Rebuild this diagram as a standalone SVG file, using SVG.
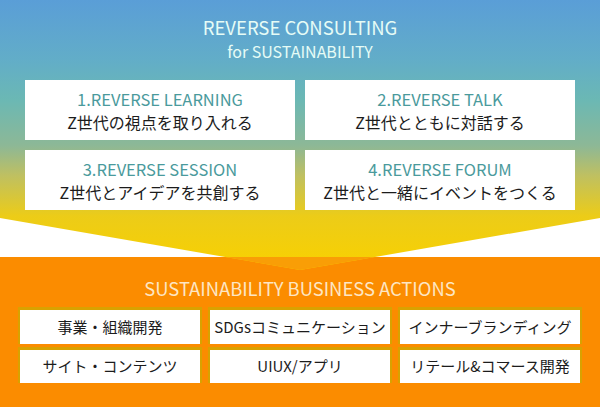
<svg xmlns="http://www.w3.org/2000/svg" width="600" height="407" viewBox="0 0 600 407">
<defs>
<linearGradient id="sky" x1="0" y1="0" x2="0" y2="270" gradientUnits="userSpaceOnUse">
<stop offset="0" stop-color="#5a9ed7"/>
<stop offset="0.22" stop-color="#62adc8"/>
<stop offset="0.37" stop-color="#6bb8b4"/>
<stop offset="0.54" stop-color="#8db896"/>
<stop offset="0.65" stop-color="#bfc061"/>
<stop offset="0.8" stop-color="#eccc18"/>
<stop offset="1" stop-color="#f9d100"/>
</linearGradient>
<style>
.t{font-family:"Noto Sans CJK JP","Noto Sans",sans-serif;text-anchor:middle}
.head{fill:#e6fcf6;font-size:18.5px}
.sub{fill:#e6fcf6;font-size:16px}
.card{fill:#ffffff}
.ct{fill:#4a9a9c;font-size:16.5px}
.cj{fill:#1c1c1c;font-size:16px}
.orange{fill:#fb8c00}
.ah{fill:#fde6c4;font-size:18.4px}
.shadow{fill:#d9a200}
.ab{fill:#ffffff}
.aj{fill:#1c1c1c;font-size:15px}
</style>
</defs>
<rect x="0" y="0" width="600" height="407" fill="#ffffff"/>
<rect class="orange" x="0" y="257" width="600" height="150"/>
<polygon points="0,0 600,0 600,218 300,270 0,218" fill="url(#sky)"/>
<polygon points="225,257 375,257 300,270" fill="#f99e06"/>
<g id="title">
<text class="t head" x="300" y="35">REVERSE CONSULTING</text>
<text class="t sub" x="300" y="58">for SUSTAINABILITY</text>
</g>
<g id="node-learning">
<rect class="card" x="25" y="80" width="270" height="60"/>
<text class="t ct" x="160" y="106">1.REVERSE LEARNING</text>
<text class="t cj" x="160" y="129">Z世代の視点を取り入れる</text>
</g>
<g id="node-talk">
<rect class="card" x="305" y="80" width="270" height="60"/>
<text class="t ct" x="440" y="106">2.REVERSE TALK</text>
<text class="t cj" x="440" y="129">Z世代とともに対話する</text>
</g>
<g id="node-session">
<rect class="card" x="25" y="150" width="270" height="60"/>
<text class="t ct" x="160" y="176">3.REVERSE SESSION</text>
<text class="t cj" x="160" y="199">Z世代とアイデアを共創する</text>
</g>
<g id="node-forum">
<rect class="card" x="305" y="150" width="270" height="60"/>
<text class="t ct" x="440" y="176">4.REVERSE FORUM</text>
<text class="t cj" x="440" y="199">Z世代と一緒にイベントをつくる</text>
</g>
<g id="connectors"></g>
<text class="t ah" x="300" y="296">SUSTAINABILITY BUSINESS ACTIONS</text>
<g id="action-1">
<rect class="shadow" x="18" y="307" width="184" height="37"/>
<rect class="ab" x="20" y="310" width="180" height="34"/>
<text class="t aj" x="110" y="333">事業・組織開発</text>
</g>
<g id="action-2">
<rect class="shadow" x="208" y="307" width="184" height="37"/>
<rect class="ab" x="210" y="310" width="180" height="34"/>
<text class="t aj" x="300" y="333">SDGsコミュニケーション</text>
</g>
<g id="action-3">
<rect class="shadow" x="398" y="307" width="184" height="37"/>
<rect class="ab" x="400" y="310" width="180" height="34"/>
<text class="t aj" x="490" y="333">インナーブランディング</text>
</g>
<g id="action-4">
<rect class="shadow" x="18" y="347" width="184" height="36"/>
<rect class="ab" x="20" y="350" width="180" height="33"/>
<text class="t aj" x="110" y="372">サイト・コンテンツ</text>
</g>
<g id="action-5">
<rect class="shadow" x="208" y="347" width="184" height="36"/>
<rect class="ab" x="210" y="350" width="180" height="33"/>
<text class="t aj" x="300" y="372">UIUX/アプリ</text>
</g>
<g id="action-6">
<rect class="shadow" x="398" y="347" width="184" height="36"/>
<rect class="ab" x="400" y="350" width="180" height="33"/>
<text class="t aj" x="490" y="372">リテール&amp;コマース開発</text>
</g>
</svg>
